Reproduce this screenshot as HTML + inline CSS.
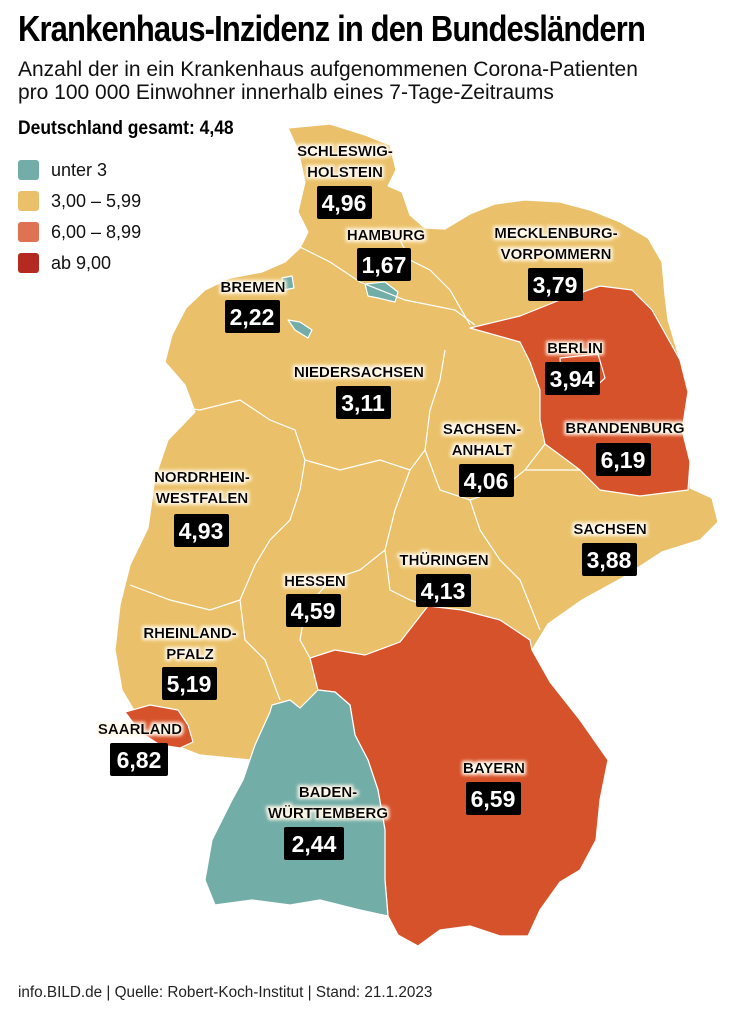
<!DOCTYPE html>
<html><head><meta charset="utf-8"><style>
body{margin:0;background:#fff;width:756px;height:1011px;overflow:hidden;font-family:"Liberation Sans",sans-serif}
.t{position:absolute;left:18px;top:8px;font-size:36px;font-weight:bold;letter-spacing:-1px;transform:scaleX(0.86);transform-origin:left;white-space:nowrap;color:#000}
.s{position:absolute;left:18px;top:58px;font-size:21px;line-height:23px;color:#111;white-space:nowrap}
.g{position:absolute;left:18px;top:118px;font-size:19px;font-weight:bold;transform:scaleX(0.92);transform-origin:left;white-space:nowrap}
.l{position:absolute;left:18px;font-size:18px;color:#111}
.l i{display:inline-block;width:21px;height:20px;border-radius:3px;vertical-align:-4px;margin-right:12px}
.f{position:absolute;left:18px;top:984px;font-size:15.3px;color:#222}
svg text{font-family:"Liberation Sans",sans-serif;font-weight:bold}
</style></head><body>
<svg width="756" height="1011" style="position:absolute;left:0;top:0">
<defs><filter id="gl"><feMorphology operator="dilate" radius="2" in="SourceAlpha" result="d"/><feGaussianBlur in="d" stdDeviation="1.5" result="b"/><feFlood flood-color="#fff8e8"/><feComposite in2="b" operator="in"/><feMerge><feMergeNode/><feMergeNode in="SourceGraphic"/></feMerge></filter></defs>
<g stroke="#fff" stroke-width="1.2" stroke-linejoin="round">
<path fill="#EAC16A" d="M288,128 L330,124 L365,135 L390,145 L396,170 L388,186 L402,192 L410,215 L425,228 L445,229 L470,214 L495,204 L525,200 L560,202 L590,210 L620,222 L648,238 L662,262 L665,295 L668,320 L680,360 L688,392 L682,430 L690,462 L690,488 L712,498 L718,522 L700,540 L662,552 L622,578 L582,600 L548,624 L532,650 L550,682 L580,720 L608,760 L600,800 L596,840 L580,870 L560,882 L540,910 L528,936 L500,936 L470,926 L440,930 L418,946 L398,935 L388,916 L360,910 L320,900 L290,905 L252,900 L215,905 L205,880 L212,840 L232,800 L243,780 L250,760 L200,755 L182,748 L150,730 L135,712 L122,690 L115,650 L120,605 L130,565 L148,528 L155,478 L168,440 L195,412 L185,385 L165,362 L172,335 L186,308 L205,290 L230,278 L262,272 L285,262 L300,248 L308,232 L298,212 L305,182 L298,150 Z"/>
<path fill="#D6522B" d="M470,328 L520,316 L560,300 L600,286 L632,290 L652,310 L666,335 L680,360 L688,392 L682,430 L690,462 L688,490 L640,496 L600,490 L580,470 L560,455 L545,444 L540,420 L540,390 L530,362 L520,342 Z"/>
<path fill="#D6522B" d="M560,358 L598,354 L605,378 L590,392 L562,388 Z"/>
<path fill="#D6522B" d="M310,658 L335,650 L365,655 L400,642 L428,606 L462,610 L500,620 L530,640 L532,650 L550,682 L580,720 L608,760 L600,800 L596,840 L580,870 L560,882 L540,910 L528,936 L500,936 L470,926 L440,930 L418,946 L398,935 L388,916 L385,880 L385,830 L378,790 L368,760 L355,735 L350,705 L335,692 L318,690 Z"/>
<path fill="#72ADA7" d="M215,905 L205,880 L212,840 L232,800 L243,780 L255,745 L270,712 L272,705 L290,700 L300,708 L318,690 L335,692 L350,705 L355,735 L368,760 L378,790 L385,830 L385,880 L388,916 L360,910 L320,900 L290,905 L252,900 Z"/>
<path fill="#D6522B" d="M125,712 L150,705 L178,710 L188,725 L193,742 L180,748 L160,745 L140,732 Z"/>
<path fill="#72ADA7" d="M365,284 L385,282 L398,292 L395,302 L378,298 L368,296 Z"/>
<path fill="#72ADA7" d="M288,320 L300,322 L312,330 L308,338 L295,330 Z"/>
<path fill="#72ADA7" d="M282,278 L292,276 L294,288 L284,290 Z"/>
</g>
<g fill="none" stroke="#fff" stroke-width="1.2">
<path d="M298,246 L330,262 L360,282 L405,300 L430,305 L455,310 L475,325"/>
<path d="M400,240 L410,260 L430,270 L450,290 L470,325"/>
<path d="M165,405 L200,410 L240,400 L270,420 L295,430 L305,460 L300,490 L290,520 L270,540 L255,565"/>
<path d="M305,460 L340,470 L380,460 L410,470 L425,450 L430,410 L440,380 L445,350"/>
<path d="M425,450 L440,490 L470,500 L500,490 L525,470 L545,444"/>
<path d="M410,470 L395,510 L385,550 L390,590 L410,600 L428,606"/>
<path d="M255,565 L240,600 L245,640 L265,660 L280,700"/>
<path d="M130,585 L170,600 L210,610 L240,600"/>
<path d="M470,500 L480,530 L500,560 L520,580 L532,610 L540,630"/>
<path d="M525,470 L560,470 L580,470"/>
<path d="M310,658 L300,640 L305,610 L330,580 L360,570 L385,550"/>
</g>
<g text-anchor="middle" font-size="15" fill="#000" filter="url(#gl)">
<text x="345" y="156">SCHLESWIG-</text><text x="345" y="177">HOLSTEIN</text>
<text x="386" y="240">HAMBURG</text>
<text x="556" y="238">MECKLENBURG-</text><text x="556" y="259">VORPOMMERN</text>
<text x="253" y="292">BREMEN</text>
<text x="359" y="377">NIEDERSACHSEN</text>
<text x="575" y="353">BERLIN</text>
<text x="482" y="434">SACHSEN-</text><text x="482" y="455">ANHALT</text>
<text x="625" y="433">BRANDENBURG</text>
<text x="202" y="482">NORDRHEIN-</text><text x="202" y="503">WESTFALEN</text>
<text x="610" y="534">SACHSEN</text>
<text x="444" y="565">THÜRINGEN</text>
<text x="315" y="586">HESSEN</text>
<text x="190" y="638">RHEINLAND-</text><text x="190" y="659">PFALZ</text>
<text x="140" y="734">SAARLAND</text>
<text x="494" y="773">BAYERN</text>
<text x="328" y="797">BADEN-</text><text x="328" y="818">WÜRTTEMBERG</text>
</g>
<g font-size="23" fill="#fff" text-anchor="middle">
<rect x="317" y="186" width="55" height="33" rx="2" fill="#000"/><text x="344" y="211">4,96</text>
<rect x="357" y="248" width="54" height="33" rx="2" fill="#000"/><text x="384" y="273">1,67</text>
<rect x="528" y="268" width="55" height="33" rx="2" fill="#000"/><text x="555" y="293">3,79</text>
<rect x="225" y="300" width="55" height="33" rx="2" fill="#000"/><text x="252" y="325">2,22</text>
<rect x="336" y="386" width="55" height="33" rx="2" fill="#000"/><text x="363" y="411">3,11</text>
<rect x="545" y="362" width="55" height="33" rx="2" fill="#000"/><text x="572" y="387">3,94</text>
<rect x="459" y="464" width="55" height="33" rx="2" fill="#000"/><text x="486" y="489">4,06</text>
<rect x="596" y="443" width="55" height="33" rx="2" fill="#000"/><text x="623" y="468">6,19</text>
<rect x="174" y="514" width="55" height="33" rx="2" fill="#000"/><text x="201" y="539">4,93</text>
<rect x="582" y="543" width="55" height="33" rx="2" fill="#000"/><text x="609" y="568">3,88</text>
<rect x="416" y="574" width="55" height="33" rx="2" fill="#000"/><text x="443" y="599">4,13</text>
<rect x="286" y="594" width="55" height="33" rx="2" fill="#000"/><text x="313" y="619">4,59</text>
<rect x="162" y="667" width="55" height="33" rx="2" fill="#000"/><text x="189" y="692">5,19</text>
<rect x="110" y="743" width="58" height="33" rx="2" fill="#000"/><text x="139" y="768">6,82</text>
<rect x="466" y="782" width="55" height="33" rx="2" fill="#000"/><text x="493" y="807">6,59</text>
<rect x="284" y="827" width="60" height="33" rx="2" fill="#000"/><text x="314" y="852">2,44</text>
</g>
</svg>
<div class="t">Krankenhaus-Inzidenz in den Bundesländern</div>
<div class="s">Anzahl der in ein Krankenhaus aufgenommenen Corona-Patienten<br>pro 100 000 Einwohner innerhalb eines 7-Tage-Zeitraums</div>
<div class="g">Deutschland gesamt: 4,48</div>
<div class="l" style="top:160px"><i style="background:#72ADA7"></i>unter 3</div>
<div class="l" style="top:191px"><i style="background:#EAC16A"></i>3,00 – 5,99</div>
<div class="l" style="top:222px"><i style="background:#DE7252"></i>6,00 – 8,99</div>
<div class="l" style="top:253px"><i style="background:#B42A20"></i>ab 9,00</div>
<div class="f">info.BILD.de | Quelle: Robert-Koch-Institut | Stand: 21.1.2023</div>
</body></html>
